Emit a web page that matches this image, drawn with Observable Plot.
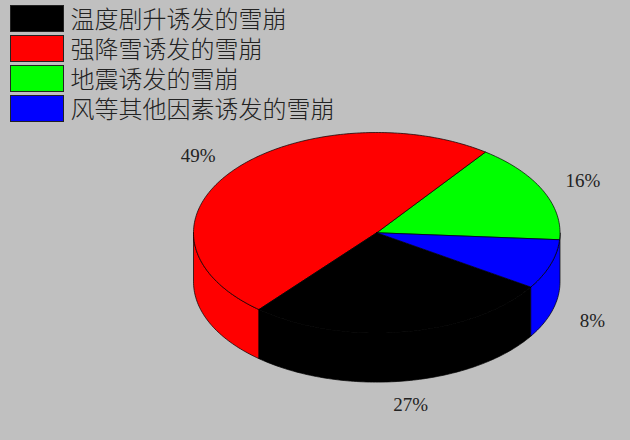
<!DOCTYPE html>
<html lang="zh">
<head>
<meta charset="utf-8">
<script src="https://cdn.jsdelivr.net/npm/d3@7"></script>
<script src="https://cdn.jsdelivr.net/npm/@observablehq/plot@0.6"></script>
<style>
html,body{margin:0;padding:0;background:#c0c0c0;width:630px;height:440px;overflow:hidden}
#legend{height:125px;box-sizing:border-box;padding:5px 0 0 10px}
.row{display:flex;align-items:center;height:27px;margin-bottom:3px}
.sw{width:54px;height:27px;box-sizing:border-box;border:1px solid #222;margin-right:6.5px}
.lb{font:24px/27px "Noto Sans CJK SC";font-weight:300;color:#222;white-space:nowrap;position:relative;top:-1.5px;height:27px;overflow:visible}
#chart svg{display:block;background:transparent}
</style>
</head>
<body>
<div id="legend"></div>
<div id="chart"></div>
<script>
// Chart values, counter-clockwise from the start angle
const labels = ["地震诱发的雪崩", "强降雪诱发的雪崩", "温度剧升诱发的雪崩", "风等其他因素诱发的雪崩"];
const values = [16, 49, 27, 8];
const colors = ["#00ff00", "#ff0000", "#000000", "#0000ff"];
const legendOrder = [2, 1, 0, 3];
const startAngle = -4;     // degrees, on the ellipse's parameter
const depth = 0.49;        // thickness of the disc, in radii of the y axis
const labelRadius = 1.24;

const total = d3.sum(values);
const rad = (a) => a * Math.PI / 180;
let acc = startAngle;
const slices = labels.map((label, i) => {
  const a0 = acc; acc += values[i] / total * 360;
  return {label, value: values[i], a0, a1: acc, mid: (a0 + acc) / 2};
});

const arc = (a0, a1, dy = 0) => {
  const n = Math.max(2, Math.ceil(Math.abs(a1 - a0)));
  return d3.range(n + 1).map((k) => {
    const a = a0 + (a1 - a0) * k / n;
    return {x: Math.cos(rad(a)), y: Math.sin(rad(a)) + dy};
  });
};

// Top faces
const tops = slices.flatMap((s) => [{x: 0, y: 0}, ...arc(s.a0, s.a1), {x: 0, y: 0}].map((p) => ({...p, label: s.label})));

// Side wall, front half only: each boundary in the lower half splits it
const red = slices[1], black = slices[2], blue = slices[3];
const wall = (label, a0, a1) => [...arc(a0, a1), ...arc(a1, a0, -depth), arc(a0, a0)[0]].map((p) => ({...p, label}));
const walls = [
  ...wall(red.label, -180, red.a1 - 360),
  ...wall(black.label, black.a0 - 360, black.a1 - 360),
  ...wall(blue.label, blue.a0 - 360, 0)
];

// Percent labels
const texts = slices.map((s) => {
  const sin = Math.sin(rad(s.mid));
  return {
    x: labelRadius * Math.cos(rad(s.mid)),
    y: labelRadius * sin + (sin < 0 ? -depth : 0),
    text: s.value + "%"
  };
});

// Legend
const legend = d3.select("#legend");
legendOrder.forEach((i) => {
  const row = legend.append("div").attr("class", "row");
  row.append("div").attr("class", "sw").style("background", colors[i]);
  row.append("div").attr("class", "lb").text(labels[i]);
});

const chart = Plot.plot({
  width: 630,
  height: 315,
  margin: 0,
  x: {domain: [-1, 1], range: [193, 559.5], axis: null},
  y: {domain: [1, -1], range: [7, 207.5], axis: null},
  color: {domain: labels, range: colors},
  marks: [
    Plot.line(walls, {x: "x", y: "y", z: "label", fill: "label", stroke: "#000", strokeWidth: 0.7, curve: "linear"}),
    Plot.line(tops, {x: "x", y: "y", z: "label", fill: "label", stroke: "#000", strokeWidth: 0.7, curve: "linear"}),
    Plot.text(texts, {x: "x", y: "y", text: "text", fontSize: 19, fontFamily: "Liberation Serif", fill: "#222"})
  ]
});
document.getElementById("chart").append(chart);
</script>
</body>
</html>
